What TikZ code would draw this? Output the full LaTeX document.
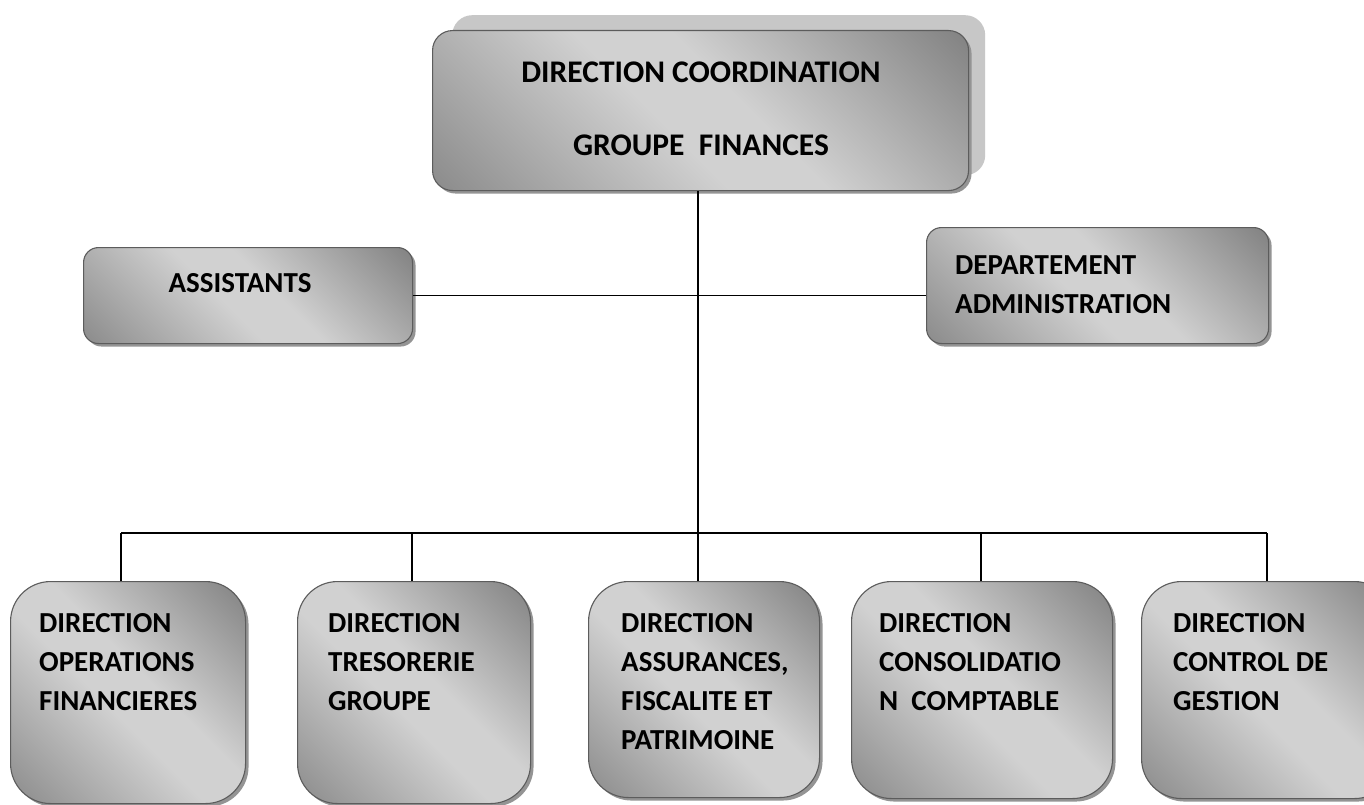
\documentclass[tikz,border=0pt]{standalone}
\usepackage{fontspec}
\setmainfont{Carlito}
\usetikzlibrary{shadows}
\pgfdeclarehorizontalshading{orgshade}{100bp}{%
  color(0bp)=(black!52); color(12bp)=(black!48); color(45bp)=(black!18);
  color(55bp)=(black!18); color(88bp)=(black!52); color(100bp)=(black!60)}
\tikzset{
  orgbox/.style={rounded corners=#1, draw=black!64, line width=1.1pt,
    shading=orgshade, shading angle=45, inner sep=0pt, anchor=north west,
    drop shadow={shadow xshift=3pt, shadow yshift=-3pt, fill=black!42, opacity=1}},
  backbox/.style={rounded corners=20pt, fill=black!22, draw=none, inner sep=0pt, anchor=north west},
  txt/.style={inner sep=0pt, align=left, text=black, font=\fontsize{29}{39}\selectfont\bfseries},
  toptxt/.style={inner sep=0pt, align=center, text=black, font=\fontsize{31.5}{38}\selectfont\bfseries},
  link/.style={draw=black, line width=1.2pt}
}
\begin{document}
\begin{tikzpicture}[x=1pt,y=-1pt]
\useasboundingbox (0,0) rectangle (1364,805);
\fill[white] (0,0) rectangle (1364,805);
% top box with its back plate
\node[backbox, minimum width=533pt, minimum height=160pt] (back) at (452,15) {};
\node[orgbox=20pt, minimum width=536pt, minimum height=160pt] (top) at (432,30) {};
\node[toptxt] (topA) at (701,72.5) {DIRECTION COORDINATION};
\node[toptxt] (topB) at (701,145) {GROUPE\ \ FINANCES};
% middle row
\node[orgbox=15pt, minimum width=329pt, minimum height=96pt] (asst) at (83,247) {};
\node[txt] (asstT) at (240,283) {ASSISTANTS};
\node[orgbox=15pt, minimum width=342pt, minimum height=116pt] (dept) at (926,227) {};
\node[txt, anchor=north west] (deptT) at (955,255) {DEPARTEMENT\\ADMINISTRATION};
% bottom row
\node[orgbox=40pt, minimum width=235pt, minimum height=222pt] (b1) at (10,581) {};
\node[orgbox=40pt, minimum width=233pt, minimum height=222pt] (b2) at (297,581) {};
\node[orgbox=40pt, minimum width=231pt, minimum height=216pt] (b3) at (588,581) {};
\node[orgbox=40pt, minimum width=261pt, minimum height=217pt] (b4) at (851,581) {};
\node[orgbox=40pt, minimum width=253pt, minimum height=217pt] (b5) at (1141,581) {};
\node[txt, anchor=north west] (t1) at (39,613) {DIRECTION\\OPERATIONS\\FINANCIERES};
\node[txt, anchor=north west] (t2) at (328,613) {DIRECTION\\TRESORERIE\\GROUPE};
\node[txt, anchor=north west] (t3) at (621,613) {DIRECTION\\ASSURANCES,\\FISCALITE ET\\PATRIMOINE};
\node[txt, anchor=north west] (t4) at (879,613) {DIRECTION\\CONSOLIDATIO\\N\ \ COMPTABLE};
\node[txt, anchor=north west] (t5) at (1173,613) {DIRECTION\\CONTROL DE\\GESTION};
% connectors
\coordinate (busC) at (698,533);
\coordinate (bus1) at (121,533);
\coordinate (bus2) at (412,533);
\coordinate (bus4) at (981,533);
\coordinate (bus5) at (1267,533);
\draw[link] (top.south -| busC) -- (busC);
\draw[link] (asst.east) -- (asst.east -| dept.west);
\draw[link] (bus1) -- (bus5);
\draw[link] (bus1) -- (bus1 |- b1.north);
\draw[link] (bus2) -- (bus2 |- b2.north);
\draw[link] (busC) -- (busC |- b3.north);
\draw[link] (bus4) -- (bus4 |- b4.north);
\draw[link] (bus5) -- (bus5 |- b5.north);
\end{tikzpicture}
\end{document}
